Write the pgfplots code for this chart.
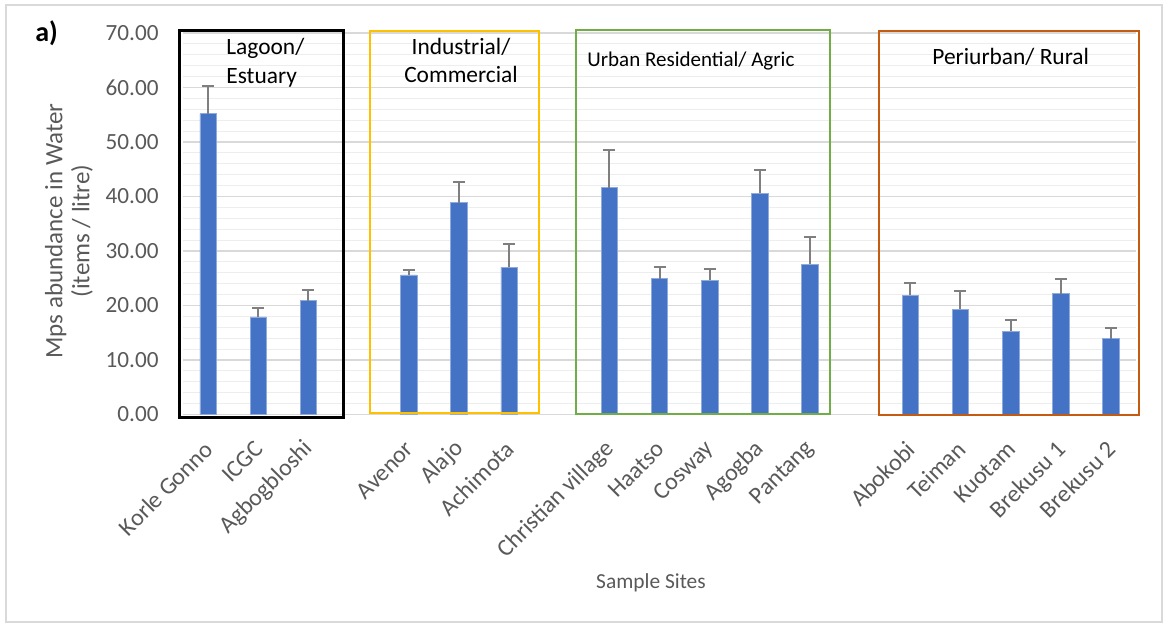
\documentclass[border=0pt]{standalone}
\usepackage{fontspec}
\setmainfont{Carlito}
\usepackage{pgfplots}
\pgfplotsset{compat=1.18}
\usepackage{pgfplotstable}

\definecolor{barblue}{HTML}{4472C4}
\definecolor{baredge}{HTML}{8FAADC}
\definecolor{errgray}{HTML}{7F7F7F}
\definecolor{gridmajor}{HTML}{D9D9D9}
\definecolor{gridminor}{HTML}{EDEDED}
\definecolor{labelgray}{HTML}{595959}
\definecolor{boxyellow}{HTML}{FFC000}
\definecolor{boxgreen}{HTML}{70AD47}
\definecolor{boxorange}{HTML}{C55A11}

% mean abundance (items/litre) and standard error per site
\pgfplotstableread{
x  y     e
0  55.2  5.0
1  17.9  1.7
2  20.9  1.9
4  25.6  0.9
5  38.9  3.7
6  27.0  4.2
8  41.6  6.9
9  24.9  2.1
10 24.6  2.1
11 40.6  4.2
12 27.6  5.0
14 21.9  2.2
15 19.3  3.3
16 15.3  2.0
17 22.2  2.7
18 13.9  1.9
}\sites

\begin{document}
\begin{tikzpicture}
\path[use as bounding box] (0,0) rectangle (583pt,313.5pt);
\begin{scope}[x=0.5pt,y=-0.5pt,shift={(0pt,313.5pt)}]
  \draw[gridmajor, line width=0.75pt] (6,5) rectangle (1162,622);
\end{scope}

\begin{axis}[
  at={(91.5pt,106.25pt)}, anchor=south west,
  scale only axis, width=476.5pt, height=190.75pt,
  xmin=-0.5, xmax=18.5, ymin=0, ymax=70,
  ybar, bar width=8.2pt,
  xtick={0,1,2,4,5,6,8,9,10,11,12,14,15,16,17,18},
  xticklabels={Korle Gonno, ICGC, Agbogbloshi, Avenor, Alajo, Achimota, Christian village, Haatso, Cosway, Agogba, Pantang, Abokobi, Teiman, Kuotam, Brekusu 1, Brekusu 2},
  ytick={0,10,...,70},
  minor y tick num=4,
  ymajorgrids, yminorgrids,
  major grid style={draw=gridmajor, line width=0.6pt},
  minor grid style={draw=gridminor, line width=0.5pt},
  axis line style={draw=none},
  major tick length=0pt, minor tick length=0pt,
  tick style={draw=none},
  scaled y ticks=false,
  /pgf/number format/assume math mode=true,
  yticklabel style={font=\fontsize{11.6}{13}\selectfont, text=labelgray, inner sep=0pt, xshift=-12pt,
    /pgf/number format/fixed, /pgf/number format/fixed zerofill, /pgf/number format/precision=2},
  xticklabel style={font=\fontsize{12}{14}\selectfont, text=labelgray, rotate=45, anchor=east, inner sep=0pt, xshift=-10.5pt, yshift=-11.2pt},
  clip=false,
]
\addplot[fill=barblue, draw=baredge, line width=0.3pt,
  error bars/.cd, y dir=plus, y explicit,
  error bar style={draw=errgray, line width=1pt},
  error mark options={draw=errgray, rotate=90, mark size=3pt, line width=1pt}]
  table[x=x, y=y, y error=e]{\sites};

% land-use groups
\draw[black, line width=1.5pt] (axis cs:-0.56,-0.46) rectangle (axis cs:2.69,70.55);
\draw[boxyellow, line width=1pt] (axis cs:3.22,0.22) rectangle (axis cs:6.60,70.37);
\draw[boxgreen, line width=1pt] (axis cs:7.34,0.1) rectangle (axis cs:12.40,70.64);
\draw[boxorange, line width=1pt] (axis cs:13.38,-0.15) rectangle (axis cs:18.55,70.37);
\end{axis}

\begin{scope}[x=0.5pt,y=-0.5pt,shift={(0pt,313.5pt)}]
  \node[anchor=base west, font=\fontsize{14}{16}\selectfont\bfseries, inner sep=0pt] at (35,42) {a)};
  \begin{scope}[every node/.style={inner sep=0pt, font=\fontsize{11.7}{14}\selectfont}]
    \node[anchor=base west] at (226,55) {Lagoon/};
    \node[anchor=base west] at (226,84) {Estuary};
    \node[anchor=base] at (461,55) {Industrial/};
    \node[anchor=base] at (461,83) {Commercial};
    \node[anchor=base west, font=\fontsize{10.5}{13}\selectfont] at (587,67) {Urban Residential/ Agric};
    \node[anchor=base west] at (932,65) {Periurban/ Rural};
  \end{scope}
  \node[rotate=90, align=center, text=labelgray, font=\fontsize{12.5}{13.5}\selectfont] at (69,231)
    {Mps abundance in Water\\(items / litre)};
  \node[anchor=base, text=labelgray, font=\fontsize{10.7}{13}\selectfont, inner sep=0pt] at (651,588) {Sample Sites};
\end{scope}
\end{tikzpicture}
\end{document}
